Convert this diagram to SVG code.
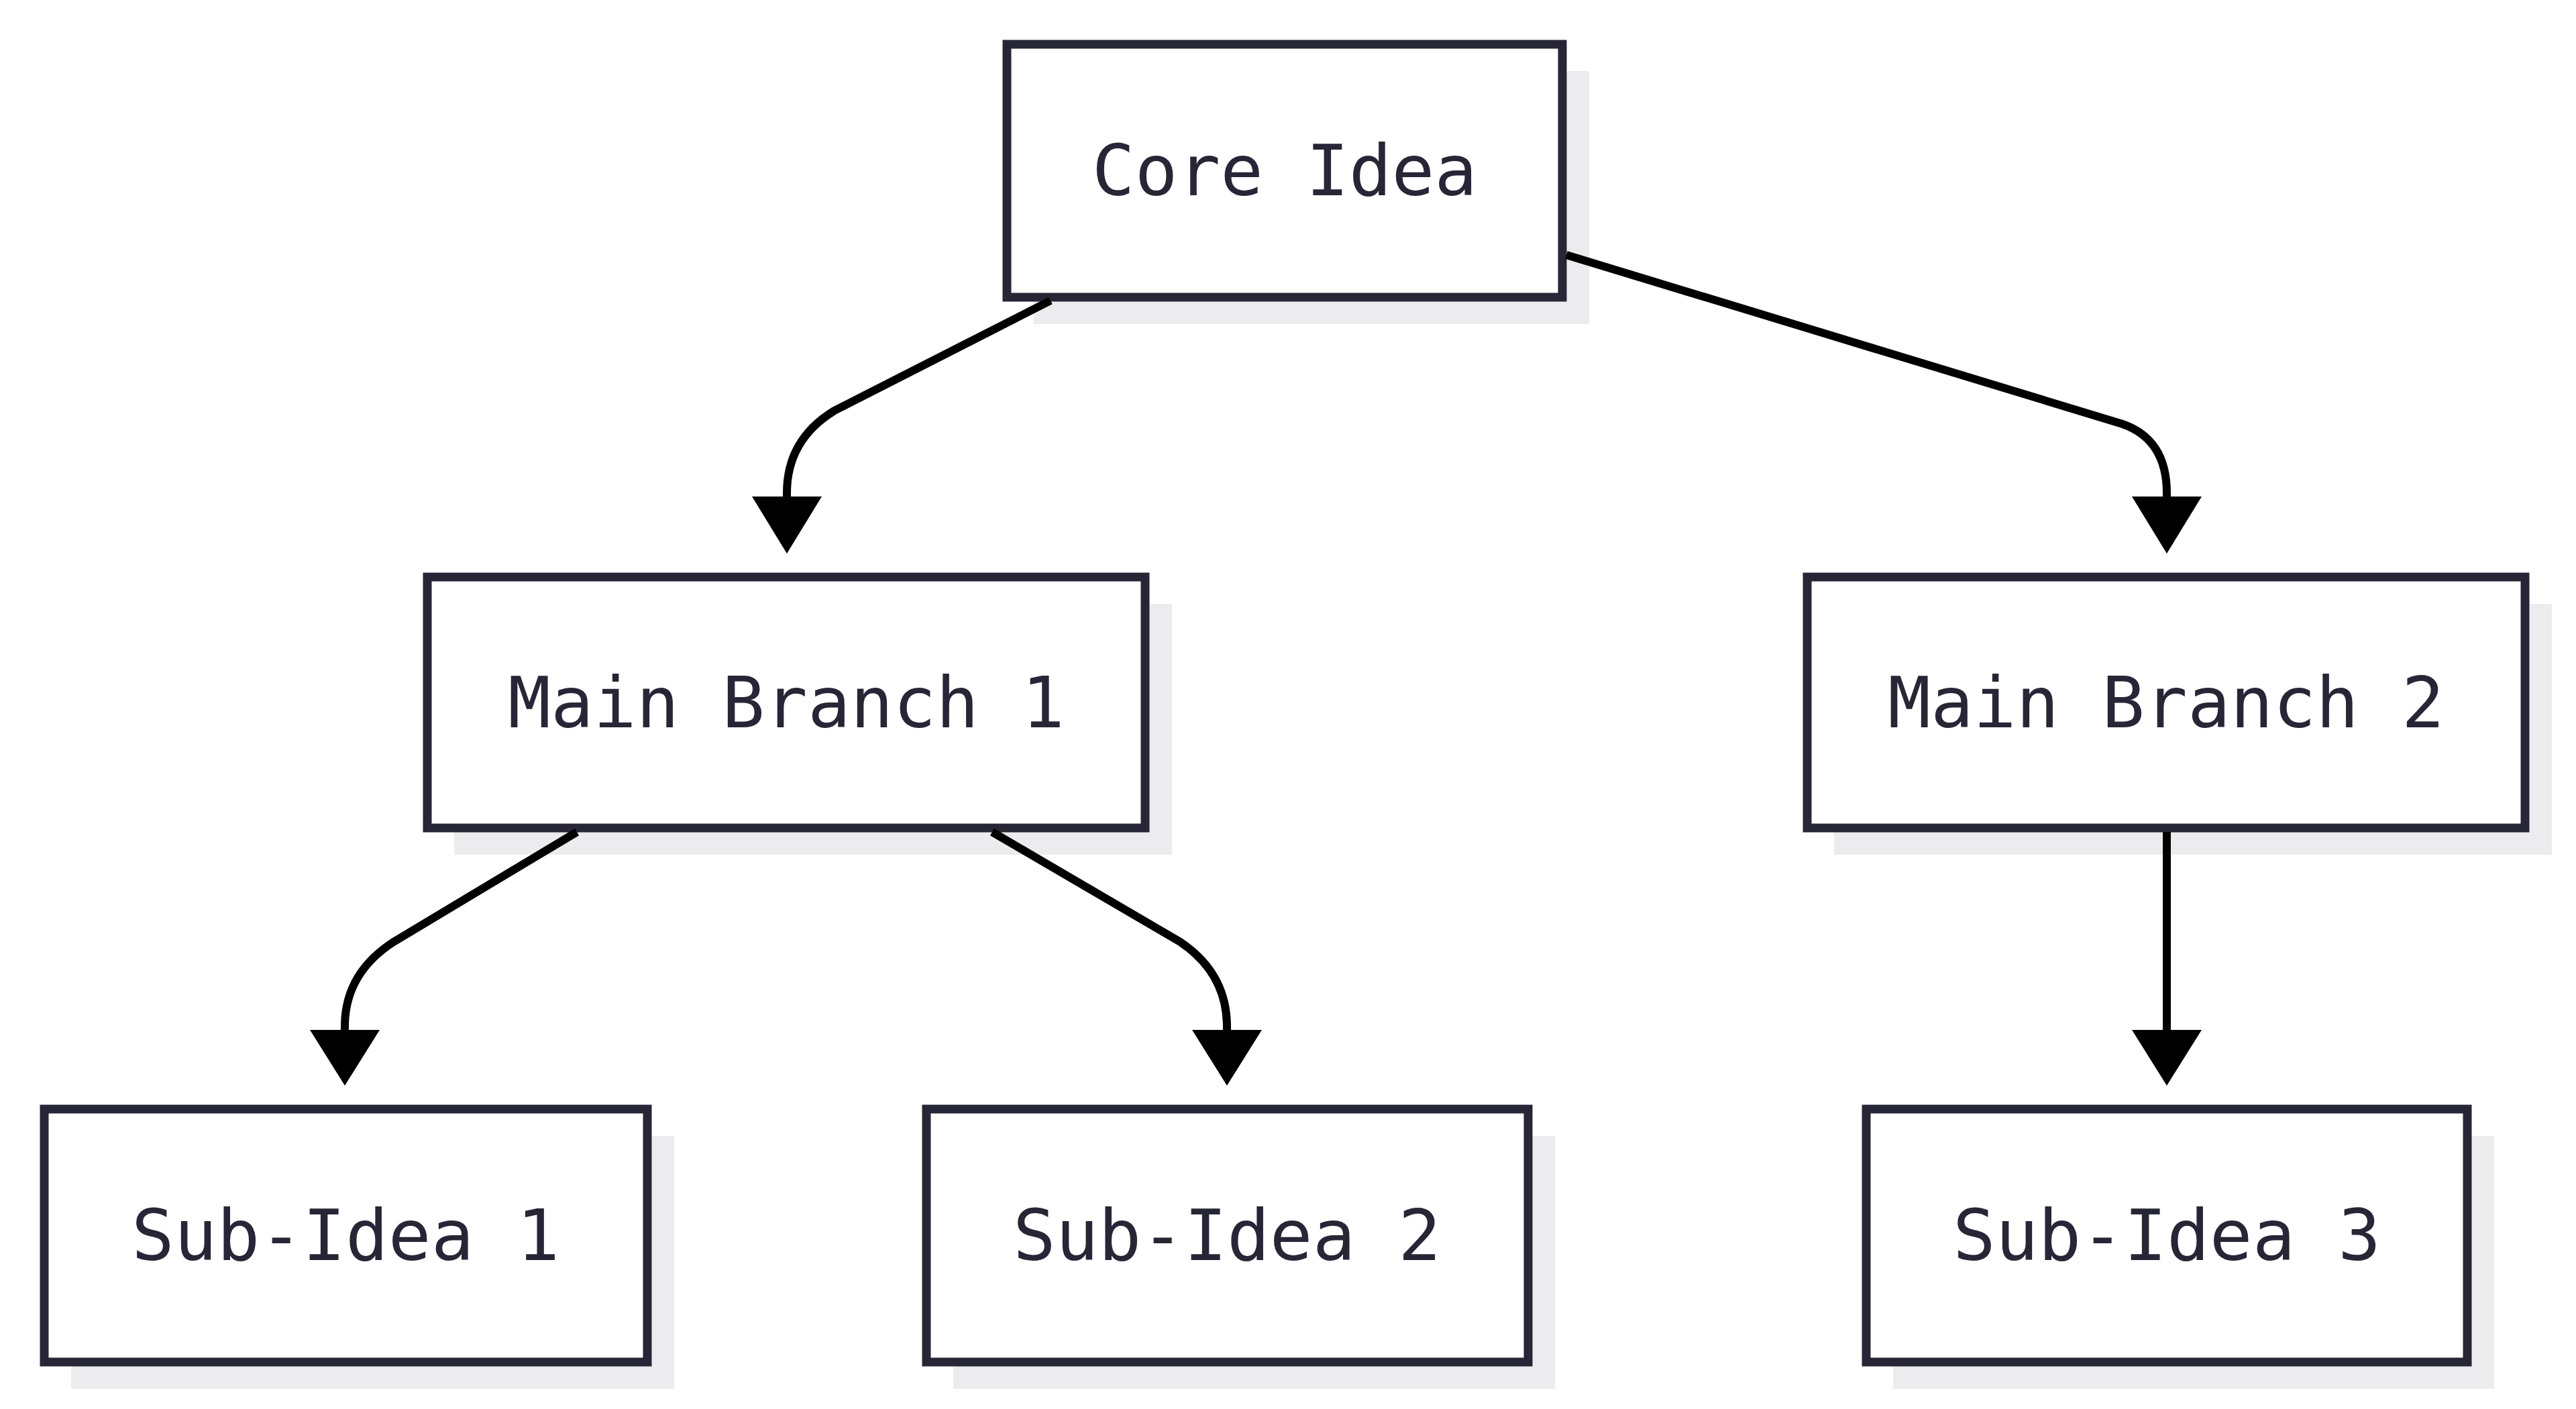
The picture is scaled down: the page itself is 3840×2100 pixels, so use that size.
<svg xmlns="http://www.w3.org/2000/svg" width="3840" height="2100" viewBox="0 0 3840 2100">
<style>
.shadow{fill:#ececef}
.box{fill:#fff;stroke:#262636;stroke-width:13}
.lbl{font-family:"DejaVu Sans Mono","Liberation Mono",monospace;font-size:106px;fill:#262636;text-anchor:middle;dominant-baseline:central}
.edge{fill:none;stroke:#000;stroke-width:12}
.head{fill:#000}
</style>
<rect width="3840" height="2100" fill="#fff"/>
<g id="core"><rect class="shadow" x="1541" y="106" width="828" height="377"/><rect class="box" x="1501" y="66" width="828" height="377"/><text class="lbl" x="1915" y="254">Core Idea</text></g>
<g id="mb1"><rect class="shadow" x="677" y="900" width="1070" height="374"/><rect class="box" x="637" y="860" width="1070" height="374"/><text class="lbl" x="1172" y="1047">Main Branch 1</text></g>
<g id="mb2"><rect class="shadow" x="2734" y="900" width="1070" height="374"/><rect class="box" x="2694" y="860" width="1070" height="374"/><text class="lbl" x="3229" y="1047">Main Branch 2</text></g>
<g id="sub1"><rect class="shadow" x="106" y="1693" width="899" height="377"/><rect class="box" x="66" y="1653" width="899" height="377"/><text class="lbl" x="515" y="1841">Sub-Idea 1</text></g>
<g id="sub2"><rect class="shadow" x="1421" y="1693" width="897" height="377"/><rect class="box" x="1381" y="1653" width="897" height="377"/><text class="lbl" x="1829" y="1841">Sub-Idea 2</text></g>
<g id="sub3"><rect class="shadow" x="2822" y="1693" width="896" height="377"/><rect class="box" x="2782" y="1653" width="896" height="377"/><text class="lbl" x="3230" y="1841">Sub-Idea 3</text></g>
<g id="connectors">
<path class="edge" d="M1566,448 L1244,612 Q1173,655 1173,735 L1173,745"/>
<polygon class="head" points="1121,740 1225,740 1173,825"/>
<path class="edge" d="M2335,380 L3164,632 Q3230,655 3230,735 L3230,745"/>
<polygon class="head" points="3178,740 3282,740 3230,825"/>
<path class="edge" d="M860,1240 L588,1403 Q514,1450 514,1530 L514,1540"/>
<polygon class="head" points="462,1535 566,1535 514,1618"/>
<path class="edge" d="M1479,1240 L1758,1403 Q1829,1450 1829,1530 L1829,1540"/>
<polygon class="head" points="1777,1535 1881,1535 1829,1618"/>
<path class="edge" d="M3230,1240 L3230,1540"/>
<polygon class="head" points="3178,1535 3282,1535 3230,1618"/>
</g>
</svg>
